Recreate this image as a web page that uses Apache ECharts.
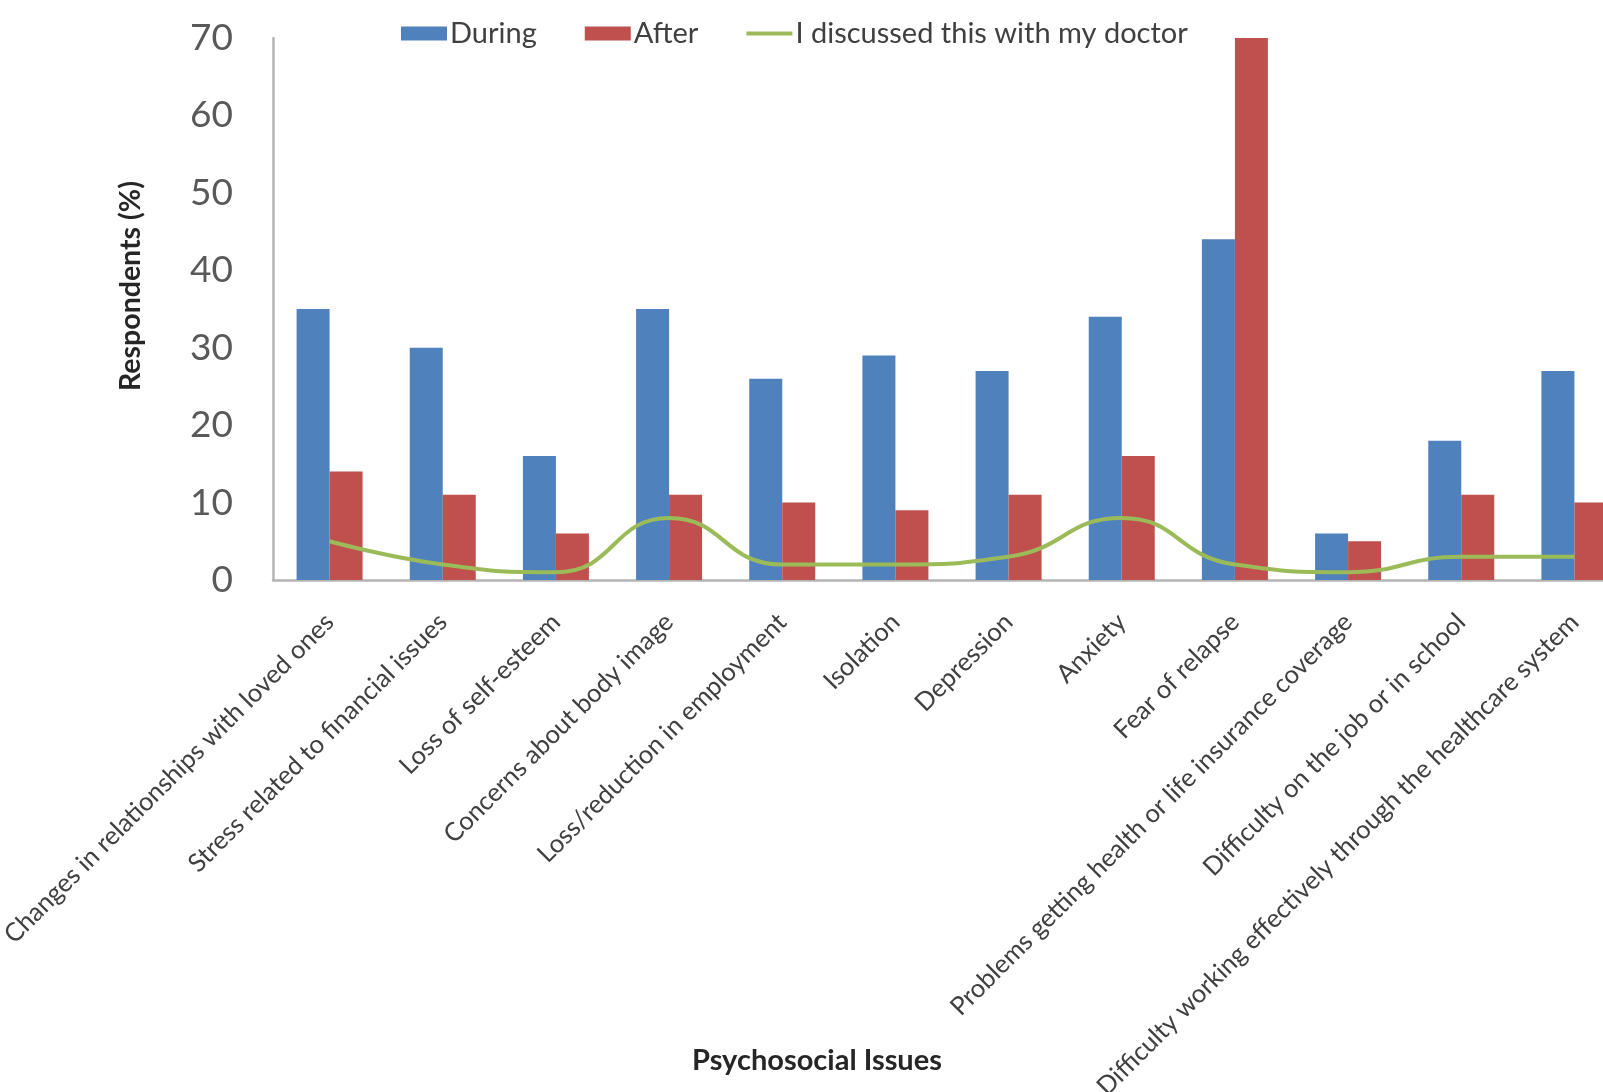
<!DOCTYPE html>
<html>
<head>
<meta charset="utf-8">
<title>Psychosocial Issues</title>
<script src="https://cdn.jsdelivr.net/npm/echarts@6/dist/echarts.min.js"></script>
<style>
  html, body { margin: 0; padding: 0; background: #ffffff; overflow: hidden; }
  #chart { width: 1720px; height: 1092px; }
</style>
</head>
<body>
<div id="chart"></div>
<script>
// Psychosocial issues reported during and after treatment (% of respondents)
const categories = [
  'Changes in relationships with loved ones',
  'Stress related to financial issues',
  'Loss of self-esteem',
  'Concerns about body image',
  'Loss/reduction in employment',
  'Isolation',
  'Depression',
  'Anxiety',
  'Fear of relapse',
  'Problems getting health or life insurance coverage',
  'Difficulty on the job or in school',
  'Difficulty working effectively through the healthcare system'
];
const during = [35, 30, 16, 35, 26, 29, 27, 34, 44, 6, 18, 27];
const after = [14, 11, 6, 11, 10, 9, 11, 16, 70, 5, 11, 10];
const discussed = [5, 2, 1, 8, 2, 2, 3, 8, 2, 1, 3, 3];

const seriesNames = ['During', 'After', 'I discussed this with my doctor'];
const yTicks = { min: 0, max: 70, interval: 10 };

const FONT = 'Lato, "Liberation Sans", sans-serif';

const chart = echarts.init(document.getElementById('chart'), null, { renderer: 'canvas' });

chart.setOption({
  animation: false,
  backgroundColor: '#ffffff',
  textStyle: { fontFamily: FONT },
  legend: {
    left: 396,
    top: 14,
    itemWidth: 46,
    itemHeight: 14,
    itemGap: 48,
    textStyle: { fontFamily: FONT, fontSize: 29, color: '#404040', padding: [0, 0, 0, -2] },
    data: [
      { name: seriesNames[0], icon: 'rect' },
      { name: seriesNames[1], icon: 'rect' },
      { name: seriesNames[2], icon: 'path://M0,0H46V4H0Z' }
    ]
  },
  grid: {
    left: 273,
    top: 38,
    width: 1358,
    height: 542,
    containLabel: false,
    outerBoundsMode: 'none'
  },
  xAxis: {
    type: 'category',
    data: categories,
    boundaryGap: true,
    axisLine: { show: true, lineStyle: { color: '#b4b4b4', width: 2.5 } },
    axisTick: { show: false },
    axisLabel: {
      interval: 0,
      rotate: 45,
      margin: 38,
      fontFamily: FONT,
      fontSize: 25.5,
      color: '#404040'
    },
    name: 'Psychosocial Issues',
    nameLocation: 'middle',
    nameGap: 466,
    nameMoveOverlap: false,
    nameTextStyle: {
      fontFamily: FONT,
      fontSize: 29,
      fontWeight: 'bold',
      color: '#262626',
      padding: [0, 270, 0, 0]
    },
    splitLine: { show: false }
  },
  yAxis: {
    type: 'value',
    min: yTicks.min,
    max: yTicks.max,
    interval: yTicks.interval,
    axisLine: { show: true, lineStyle: { color: '#b4b4b4', width: 2.5 } },
    axisTick: { show: false },
    splitLine: { show: false },
    axisLabel: {
      margin: 40,
      fontFamily: FONT,
      fontSize: 37,
      color: '#595959'
    },
    name: 'Respondents (%)',
    nameLocation: 'middle',
    nameRotate: 90,
    nameGap: 128,
    nameMoveOverlap: false,
    nameTextStyle: {
      fontFamily: FONT,
      fontSize: 28.5,
      fontWeight: 'bold',
      color: '#262626',
      padding: [0, 0, 0, 46]
    }
  },
  series: [
    {
      name: seriesNames[0],
      type: 'bar',
      data: during,
      barWidth: 33,
      barGap: '0%',
      itemStyle: { color: '#4f81bd' }
    },
    {
      name: seriesNames[1],
      type: 'bar',
      data: after,
      barWidth: 33,
      barGap: '0%',
      itemStyle: { color: '#c0504d' }
    },
    {
      name: seriesNames[2],
      type: 'line',
      data: discussed,
      smooth: true,
      symbol: 'none',
      z: 5,
      lineStyle: { color: '#9bbb59', width: 4 },
      itemStyle: { color: '#9bbb59' }
    }
  ]
});
</script>
</body>
</html>
